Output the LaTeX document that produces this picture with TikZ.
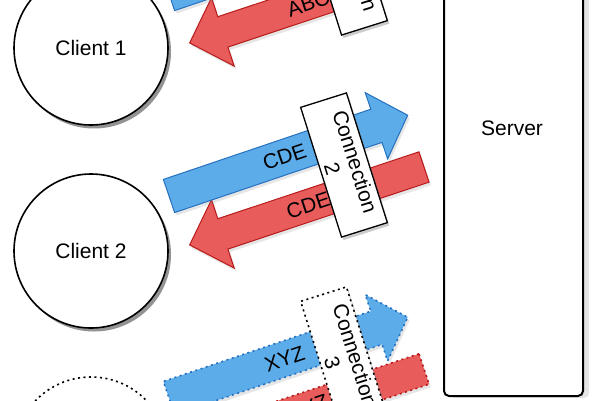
\documentclass[tikz,border=0pt]{standalone}
\usepackage{fontspec}
\setmainfont{Liberation Sans}
\usetikzlibrary{shadows}

\definecolor{msgblue}{RGB}{92,172,234}
\definecolor{msgblueline}{RGB}{38,112,192}
\definecolor{msgred}{RGB}{232,92,92}
\definecolor{msgredline}{RGB}{184,26,26}

\newcommand{\bigfont}{\fontsize{21}{24}\selectfont}

\tikzset{
  client/.style={circle, draw, line width=1.6pt, fill=white, minimum size=154pt, inner sep=0pt,
    drop shadow={shadow xshift=3pt, shadow yshift=-3.5pt, opacity=0.85}},
  serverbox/.style={draw, line width=2pt, rounded corners=5pt, fill=white,
    minimum width=139pt, minimum height=440pt, inner sep=0pt,
    drop shadow={shadow xshift=6pt, shadow yshift=-2pt, opacity=0.2}},
  connbox/.style={draw, line width=1.3pt, fill=white, minimum width=136pt, minimum height=48pt,
    align=center, inner sep=1pt, drop shadow={shadow xshift=2pt, shadow yshift=-3pt, opacity=0.4}},
  outmsg/.style={fill=msgblue, draw=msgblueline, line width=1pt,
    drop shadow={shadow xshift=2pt, shadow yshift=-3pt, opacity=0.2}},
  inmsg/.style={fill=msgred, draw=msgredline, line width=1pt,
    drop shadow={shadow xshift=2pt, shadow yshift=-3pt, opacity=0.2}},
  msglabel/.style={inner sep=0pt},
  dotline/.style={dash pattern=on 2pt off 3.5pt, line width=1.6pt},
}

\begin{document}
\begin{tikzpicture}[x=1pt, y=1pt, font=\bigfont]
    \useasboundingbox (0,0) rectangle (600,-400);
    \clip (0,0) rectangle (600,-400);

    % Server
    \node[serverbox, anchor=south west] (server) at (443,-397) {};
    \node (serverlabel) at (512,-128) {Server};

    % Clients
    \foreach \n/\y in {1/-48, 2/-251} {
        \node[client] (client\n) at (91,\y) {Client \n};
    }
    \node[client, dotline] (client3) at (91,-454) {};

    % Connections (shifted copies, the third one dotted)
    \foreach \n/\dy/\bdy/\txt/\ls in {1/202/0/ABC/solid, 2/0/0/CDE/solid, 3/-202/8/XYZ/dotline} {
        \begin{scope}[shift={(0,\dy)}]
            % server -> client (red)
            \begin{scope}[shift={(424,-167)}, rotate=198.4]
                \filldraw[inmsg, \ls] (0,-16) -- (212,-16) -- (212,-36) -- (247,0)
                    -- (212,36) -- (212,16) -- (0,16) -- cycle;
                \node[msglabel, rotate=18.4] (inlbl\n) at (122,0) {\txt};
            \end{scope}
            % client -> server (blue)
            \begin{scope}[shift={(169,-196)}, rotate=18.7]
                \filldraw[outmsg, \ls] (0,-17.5) -- (219,-17.5) -- (219,-35) -- (252,0)
                    -- (219,35) -- (219,17.5) -- (0,17.5) -- cycle;
                \node[msglabel, rotate=18.7] (outlbl\n) at (122,0) {\txt};
            \end{scope}
            % connection box
            \node[connbox, \ls, rotate=-72.5] (conn\n) at (344,-165+\bdy) {Connection\\\n};
        \end{scope}
    }
\end{tikzpicture}
\end{document}
